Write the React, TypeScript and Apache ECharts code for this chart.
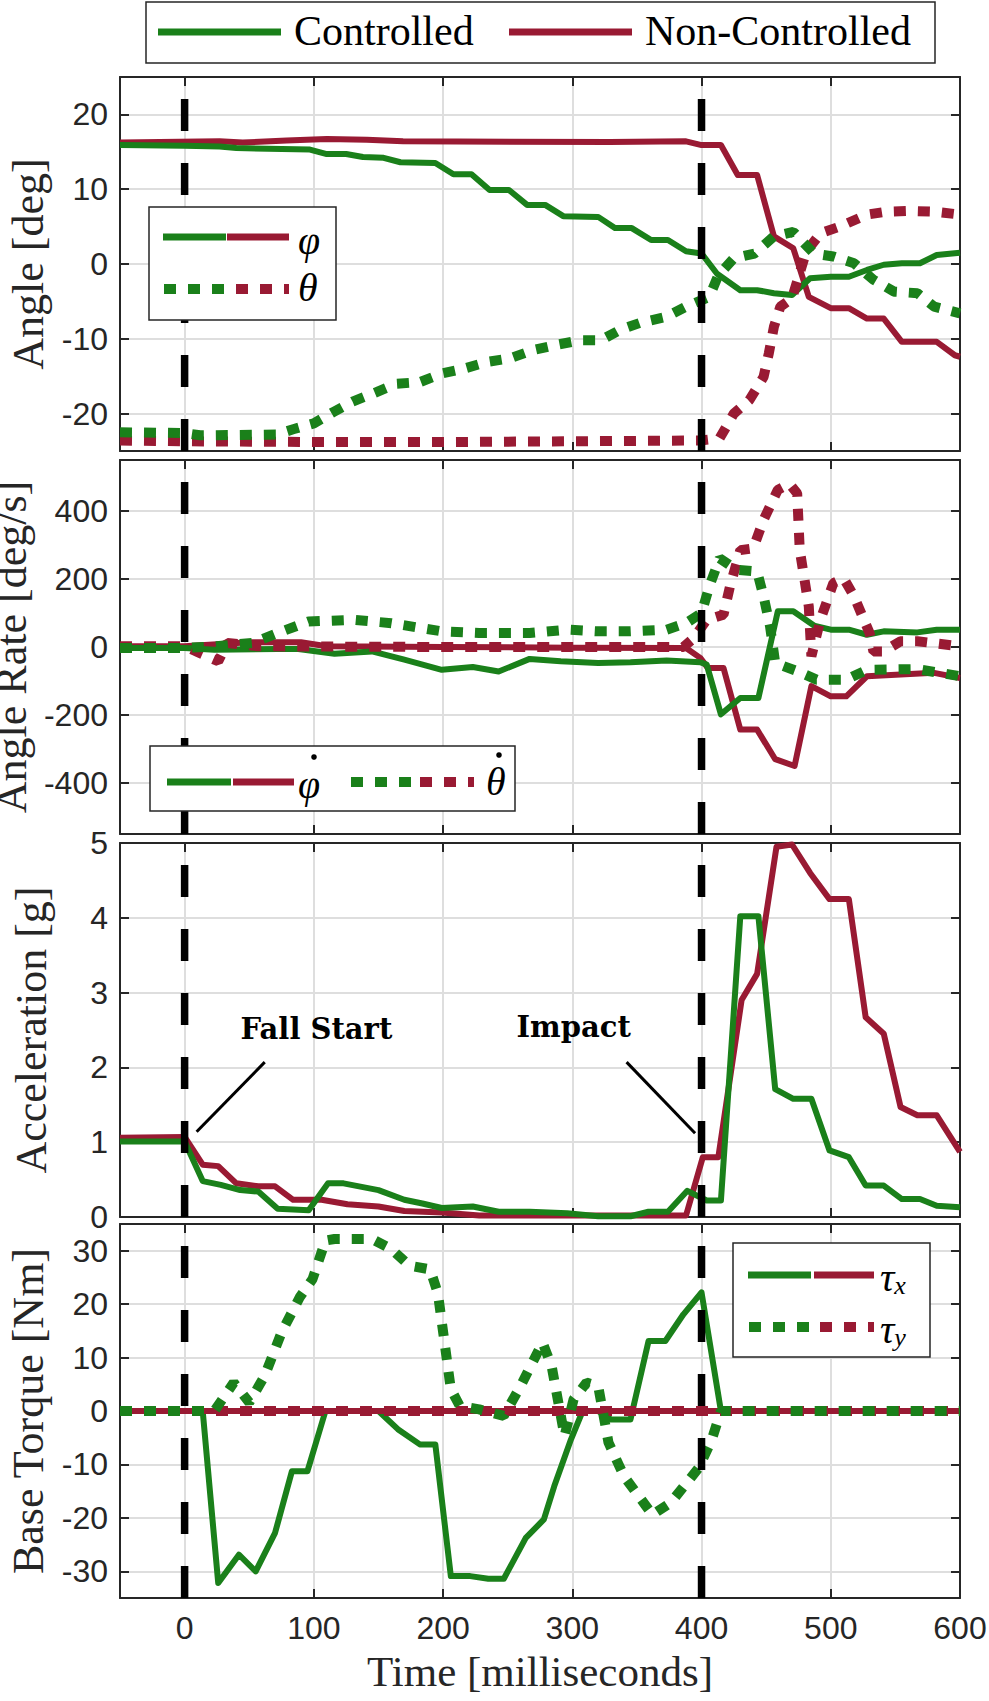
import React, { useEffect, useRef } from "react";
import * as echarts from "echarts";

type Pt = [number, number];

const GREEN = "#1A801A";
const RED = "#991A33";
const AXIS = "#262626";
const GRIDC = "#dedede";

// ---------- tick values ----------
const timeTicks = [0, 100, 200, 300, 400, 500, 600];
const angleTicks = [-20, -10, 0, 10, 20];
const rateTicks = [-400, -200, 0, 200, 400];
const accelTicks = [0, 1, 2, 3, 4, 5];
const torqueTicks = [-30, -20, -10, 0, 10, 20, 30];
const eventTimes = [0, 400];

// ---------- Angle [deg] ----------
const phiCtrl: Pt[] = [
  [-50, 15.9], [0, 15.8], [27, 15.7], [40, 15.5], [97, 15.3], [110, 14.7], [125, 14.7], [138, 14.3],
  [154, 14.2], [167, 13.6], [194, 13.5], [208, 12.0], [222, 12.0], [236, 9.9], [251, 9.9], [265, 7.9],
  [279, 7.9], [293, 6.4], [320, 6.3], [333, 4.8], [346, 4.8], [361, 3.2], [374, 3.2], [388, 1.7],
  [400, 1.4], [412, -1.3], [430, -3.5], [443, -3.5], [456, -3.9], [470, -4.15], [484, -1.9], [500, -1.7],
  [514, -1.7], [528, -0.8], [541, -0.1], [555, 0.1], [569, 0.1], [582, 1.2], [600, 1.5],
];
const phiNon: Pt[] = [
  [-50, 16.25], [27, 16.4], [45, 16.25], [79, 16.5], [110, 16.7], [141, 16.6], [169, 16.4], [329, 16.3],
  [388, 16.4], [400, 15.9], [415, 15.9], [428, 11.9], [443, 11.9], [456, 3.7], [471, 2.1], [476, -0.6],
  [483, -4.4], [500, -5.9], [514, -5.9], [528, -7.3], [541, -7.3], [555, -10.4], [582, -10.4], [596, -12.2],
  [600, -12.4],
];
const thetaCtrl: Pt[] = [
  [-50, -22.5], [0, -22.6], [12, -22.9], [71, -22.8], [84, -22.1], [100, -21.3], [115, -19.8], [130, -18.4],
  [146, -17.3], [164, -16.0], [182, -15.8], [200, -14.6], [216, -14.0], [234, -13.1], [252, -12.6], [270, -11.5],
  [288, -10.8], [306, -10.2], [322, -10.2], [337, -8.8], [352, -7.9], [373, -7.05], [388, -5.7], [406, -4.4],
  [413, -1.5], [425, 0.76], [441, 1.4], [456, 3.7], [471, 4.3], [487, 1.4], [502, 1.0], [518, 0.1],
  [533, -2.1], [549, -3.7], [567, -3.9], [580, -5.7], [600, -6.6],
];
const thetaNon: Pt[] = [
  [-50, -23.6], [0, -23.7], [100, -23.8], [200, -23.8], [300, -23.7], [399, -23.6], [414, -23.3], [425, -20.0],
  [437, -18.2], [448, -15.1], [452, -12.0], [456, -8.4], [461, -5.7], [470, -4.6], [481, 1.65], [492, 4.1],
  [507, 5.0], [528, 6.6], [543, 7.0], [561, 7.1], [580, 7.0], [600, 6.6],
];

// ---------- Angle Rate [deg/s] ----------
const phiDotCtrl: Pt[] = [
  [-50, -3], [0, -3], [23, -8], [72, -6], [88, -6], [116, -20], [145, -13], [170, -37], [199, -67],
  [223, -59], [243, -72], [267, -35], [291, -42], [320, -47], [345, -45], [373, -40], [399, -45], [404, -52],
  [415, -198], [430, -150], [444, -150], [459, 105], [471, 105], [487, 63], [500, 51], [514, 51], [528, 36],
  [541, 46], [567, 43], [582, 51], [600, 51],
];
const phiDotNon: Pt[] = [
  [-50, 2], [0, 2], [50, 14], [90, 14], [110, 2], [200, 0], [300, -2], [388, -3], [399, -32], [405, -62],
  [417, -62], [430, -243], [443, -243], [457, -330], [472, -350], [485, -115], [500, -145], [512, -145],
  [528, -86], [580, -76], [600, -91],
];
const thetaDotCtrl: Pt[] = [
  [-50, -3], [0, -3], [23, 2], [53, 12], [72, 41], [96, 75], [131, 80], [160, 70], [199, 46], [228, 41],
  [267, 41], [296, 51], [320, 46], [345, 46], [373, 51], [388, 70], [400, 100], [406, 178], [414, 261],
  [427, 227], [443, 222], [448, 149], [453, 61], [457, -47], [474, -71], [489, -96], [512, -96], [528, -67],
  [567, -65], [600, -86],
];
const thetaDotNon: Pt[] = [
  [-50, 2], [0, 2], [9, -13], [26, -42], [33, 12], [57, 2], [200, 0], [386, 0], [394, 26], [404, 80],
  [417, 95], [422, 178], [430, 285], [440, 290], [448, 374], [459, 462], [468, 480], [474, 452], [476, 285],
  [483, 119], [485, -27], [492, 80], [502, 188], [510, 202], [518, 149], [530, 41], [533, -13], [541, -13],
  [554, 17], [567, 17], [600, 2],
];

// ---------- Acceleration [g] ----------
const accCtrl: Pt[] = [
  [-50, 1.01], [0, 1.01], [14, 0.48], [28, 0.43], [43, 0.36], [57, 0.34], [72, 0.11], [96, 0.09], [111, 0.45],
  [123, 0.45], [150, 0.36], [170, 0.23], [184, 0.18], [199, 0.12], [223, 0.14], [243, 0.07], [267, 0.07],
  [296, 0.05], [320, 0.01], [345, 0.01], [359, 0.07], [374, 0.07], [389, 0.35], [404, 0.22], [415, 0.22],
  [430, 4.02], [444, 4.02], [457, 1.71], [471, 1.58], [485, 1.58], [499, 0.89], [514, 0.8], [527, 0.42],
  [541, 0.42], [555, 0.24], [569, 0.24], [582, 0.15], [600, 0.13],
];
const accNon: Pt[] = [
  [-50, 1.06], [0, 1.07], [14, 0.7], [26, 0.68], [40, 0.45], [57, 0.41], [70, 0.41], [84, 0.23], [106, 0.23],
  [126, 0.17], [150, 0.14], [170, 0.08], [199, 0.06], [228, 0.02], [388, 0.02], [401, 0.8], [413, 0.8],
  [431, 2.9], [443, 3.25], [458, 4.95], [470, 4.98], [484, 4.6], [499, 4.25], [514, 4.25], [527, 2.67],
  [541, 2.45], [554, 1.47], [567, 1.36], [582, 1.36], [600, 0.87],
];

// ---------- Base Torque [Nm] ----------
const tauXCtrl: Pt[] = [
  [-50, 0], [14, 0], [26, -32.2], [42, -26.9], [55, -30], [70, -22.8], [83, -11.3], [95, -11.3], [109, 0],
  [150, 0], [165, -3.4], [182, -6.25], [194, -6.25], [206, -30.9], [221, -30.9], [235, -31.4], [247, -31.4],
  [264, -23.75], [278, -20.3], [286, -14.1], [299, -5.3], [308, 0], [320, 0], [330, -1.6], [345, -1.6],
  [359, 13.1], [372, 13.1], [386, 18.1], [400, 22.2], [415, 0], [600, 0],
];
const tauYCtrl: Pt[] = [
  [-50, 0], [23, 0], [38, 5.3], [50, 1.6], [62, 6.6], [75, 14.7], [89, 21.25], [99, 24.7], [109, 31.9],
  [116, 32.2], [145, 32.2], [160, 30.3], [174, 27.2], [190, 26.5], [196, 22], [206, 4.1], [213, 0.9],
  [228, 0.3], [247, -0.9], [260, 4.7], [277, 12.8], [284, 8.4], [294, -4.7], [301, 2.2], [311, 5.3],
  [320, 4.7], [328, -5.9], [340, -12.2], [362, -19.4], [376, -17.2], [398, -10.6], [408, -5.3], [415, 0],
  [600, 0],
];
const tauXNon: Pt[] = [[-50, 0], [600, 0]];
const tauYNon: Pt[] = [[-50, 0], [600, 0]];

// ---------- annotations (panel 3) ----------
const annotationTexts = ["Fall Start", "Impact"];
const annotationTextAt: Pt[] = [[102, 2.51], [301, 2.54]];
const annotationLines: [Pt, Pt][] = [
  [[9.3, 1.14], [62, 2.07]],
  [[395, 1.12], [342, 2.07]],
];

type LineDef = { data: Pt[]; color: string; dotted: boolean };
type Panel = { name: string; min: number; max: number; ticks: number[]; lines: LineDef[] };

const panels: Panel[] = [
  {
    name: "Angle [deg]", min: -25, max: 25, ticks: angleTicks,
    lines: [
      { data: phiNon, color: RED, dotted: false },
      { data: phiCtrl, color: GREEN, dotted: false },
      { data: thetaNon, color: RED, dotted: true },
      { data: thetaCtrl, color: GREEN, dotted: true },
    ],
  },
  {
    name: "Angle Rate [deg/s]", min: -550, max: 550, ticks: rateTicks,
    lines: [
      { data: phiDotNon, color: RED, dotted: false },
      { data: phiDotCtrl, color: GREEN, dotted: false },
      { data: thetaDotNon, color: RED, dotted: true },
      { data: thetaDotCtrl, color: GREEN, dotted: true },
    ],
  },
  {
    name: "Acceleration [g]", min: 0, max: 5, ticks: accelTicks,
    lines: [
      { data: accNon, color: RED, dotted: false },
      { data: accCtrl, color: GREEN, dotted: false },
    ],
  },
  {
    name: "Base Torque [Nm]", min: -35, max: 35, ticks: torqueTicks,
    lines: [
      { data: tauXCtrl, color: GREEN, dotted: false },
      { data: tauXNon, color: RED, dotted: false },
      { data: tauYNon, color: RED, dotted: true },
      { data: tauYCtrl, color: GREEN, dotted: true },
    ],
  },
];

// ---------- layout ----------
const GRID_LEFT = 120;
const GRID_WIDTH = 840;
const GRID_HEIGHT = 374;
const GRID_TOPS = [77, 460, 843, 1224];
const SOLID_W = 6;
const DOT_W = 10;
const DOT_DASH = [12, 12];
const SERIF = '"Liberation Serif", "Times New Roman", serif';
const SANS = '"Liberation Sans", Arial, Helvetica, sans-serif';

function legendLine(x1: number, x2: number, y: number, color: string, dotted: boolean) {
  return {
    type: "line",
    z: 101,
    shape: { x1, y1: y, x2, y2: y },
    style: {
      stroke: color,
      lineWidth: dotted ? DOT_W : 7,
      lineDash: dotted ? DOT_DASH : null,
      lineCap: "butt",
    },
  };
}
function legendBox(x: number, y: number, width: number, height: number) {
  return {
    type: "rect",
    z: 100,
    shape: { x, y, width, height },
    style: { fill: "#ffffff", stroke: AXIS, lineWidth: 1.5 },
  };
}
function legendText(x: number, y: number, text: string, font: string, rich?: any) {
  return {
    type: "text",
    z: 102,
    x,
    y,
    style: { text, font, fill: "#000", align: "left", verticalAlign: "middle", rich },
  };
}
function legendDot(cx: number, cy: number) {
  return { type: "circle", z: 103, shape: { cx, cy, r: 2.8 }, style: { fill: "#000" } };
}

function buildOption() {
  const grid = GRID_TOPS.map((top) => ({
    left: GRID_LEFT, top, width: GRID_WIDTH, height: GRID_HEIGHT,
    containLabel: false, outerBoundsMode: "none",
  }));
  const lineSt = { color: AXIS, width: 2 };
  const xAxis: any[] = [];
  const yAxis: any[] = [];
  panels.forEach((p, i) => {
    xAxis.push({
      type: "value", gridIndex: i, min: -50, max: 600, position: "bottom",
      axisLine: { show: true, onZero: false, lineStyle: lineSt },
      axisTick: { show: true, inside: true, length: 9, customValues: timeTicks, lineStyle: lineSt },
      axisLabel: {
        show: i === panels.length - 1, customValues: timeTicks, margin: 14,
        fontFamily: SANS, fontSize: 32, color: AXIS,
      },
      splitLine: { show: true, lineStyle: { color: GRIDC, width: 2 } },
      name: i === panels.length - 1 ? "Time [milliseconds]" : "",
      nameLocation: "middle", nameGap: 52,
      nameTextStyle: { fontFamily: SERIF, fontSize: 43, color: AXIS },
    });
    yAxis.push({
      type: "value", gridIndex: i, min: p.min, max: p.max, position: "left",
      axisLine: { show: true, onZero: false, lineStyle: lineSt },
      axisTick: { show: true, inside: true, length: 9, customValues: p.ticks, lineStyle: lineSt },
      axisLabel: { show: true, customValues: p.ticks, margin: 12, fontFamily: SANS, fontSize: 32, color: AXIS },
      splitLine: { show: true, lineStyle: { color: GRIDC, width: 2 } },
      name: p.name, nameLocation: "middle", nameGap: 67,
      nameTextStyle: { fontFamily: SERIF, fontSize: 44, color: AXIS },
    });
  });
  panels.forEach((p, i) => {
    xAxis.push({
      type: "value", gridIndex: i, min: -50, max: 600, position: "top",
      axisLine: { show: true, onZero: false, lineStyle: lineSt },
      axisTick: { show: true, inside: true, length: 9, customValues: timeTicks, lineStyle: lineSt },
      axisLabel: { show: false },
      splitLine: { show: false },
    });
    yAxis.push({
      type: "value", gridIndex: i, min: p.min, max: p.max, position: "right",
      axisLine: { show: true, onZero: false, lineStyle: lineSt },
      axisTick: { show: true, inside: true, length: 9, customValues: p.ticks, lineStyle: lineSt },
      axisLabel: { show: false },
      splitLine: { show: false },
    });
  });

  const series: any[] = [];
  panels.forEach((p, i) => {
    p.lines.forEach((l, k) => {
      series.push({
        type: "line", xAxisIndex: i, yAxisIndex: i, data: l.data,
        symbol: "none", showSymbol: false, silent: true, z: 2 + k,
        lineStyle: {
          color: l.color, width: l.dotted ? DOT_W : SOLID_W,
          type: l.dotted ? DOT_DASH : "solid", cap: "butt", join: l.dotted ? "bevel" : "round",
        },
      });
    });
    eventTimes.forEach((t, e) => {
      const s: any = {
        type: "line", xAxisIndex: i, yAxisIndex: i,
        data: [[t, p.min], [t, p.max]],
        symbol: "none", showSymbol: false, silent: true, z: 10,
        lineStyle: { color: "#000", width: 7.5, type: [32, 32], cap: "butt" },
      };
      if (i === 2 && e === 0) {
        s.markLine = {
          silent: true, symbol: ["none", "none"], animation: false,
          label: { show: false },
          lineStyle: { color: "#000", width: 3, type: "solid" },
          data: annotationLines.map(([a, b]) => [{ coord: a }, { coord: b }]),
        };
        s.markPoint = {
          silent: true, symbol: "circle", symbolSize: 0, animation: false,
          label: {
            show: true, position: "inside", formatter: "{b}",
            fontFamily: '"DejaVu Serif", serif', fontWeight: "bold", fontSize: 29, color: "#000",
          },
          data: annotationTexts.map((name, j) => ({ name, coord: annotationTextAt[j] })),
        };
      }
      series.push(s);
    });
  });

  const legendFont = `42px ${SERIF}`;
  const greekFont = `italic 40px ${SERIF}`;
  const subRich = {
    a: { font: `italic 40px ${SERIF}` },
    b: { font: `italic 26px ${SERIF}`, verticalAlign: "bottom", padding: [16, 0, 0, 0] },
  };
  const graphic: any[] = [
    // top legend
    legendBox(146, 2, 789, 61),
    legendLine(158, 281, 32, GREEN, false),
    legendText(294, 31, "Controlled", legendFont),
    legendLine(509, 632, 32, RED, false),
    legendText(645, 31, "Non-Controlled", legendFont),
    // angle legend
    legendBox(149, 207, 187, 113),
    legendLine(163, 226, 237, GREEN, false),
    legendLine(227, 289, 237, RED, false),
    legendText(298, 240, "φ", greekFont),
    legendLine(164, 226, 289, GREEN, true),
    legendLine(236, 289, 289, RED, true),
    legendText(298, 287, "θ", greekFont),
    // rate legend
    legendBox(150, 746, 365, 65),
    legendLine(167, 231, 782, GREEN, false),
    legendLine(233, 294, 782, RED, false),
    legendText(298, 784, "φ", greekFont),
    legendDot(314, 757),
    legendLine(351, 412, 782, GREEN, true),
    legendLine(420, 474, 782, RED, true),
    legendText(486, 781, "θ", greekFont),
    legendDot(499, 755),
    // torque legend
    legendBox(733, 1243, 197, 114),
    legendLine(748, 811, 1275, GREEN, false),
    legendLine(814, 874, 1275, RED, false),
    legendText(880, 1277, "{a|τ}{b|x}", greekFont, subRich),
    legendLine(749, 811, 1327, GREEN, true),
    legendLine(820, 874, 1327, RED, true),
    legendText(880, 1329, "{a|τ}{b|y}", greekFont, subRich),
  ];

  return {
    animation: false,
    backgroundColor: "#ffffff",
    grid,
    xAxis,
    yAxis,
    series,
    graphic,
  };
}

export default function App() {
  const ref = useRef<HTMLDivElement>(null);
  useEffect(() => {
    if (!ref.current) return;
    const chart = echarts.init(ref.current, undefined, { renderer: "svg" });
    chart.setOption(buildOption() as any);
    return () => chart.dispose();
  }, []);
  return (
    <div
      ref={ref}
      style={{ position: "absolute", left: 0, top: 0, width: 989, height: 1701, background: "#fff" }}
    />
  );
}
